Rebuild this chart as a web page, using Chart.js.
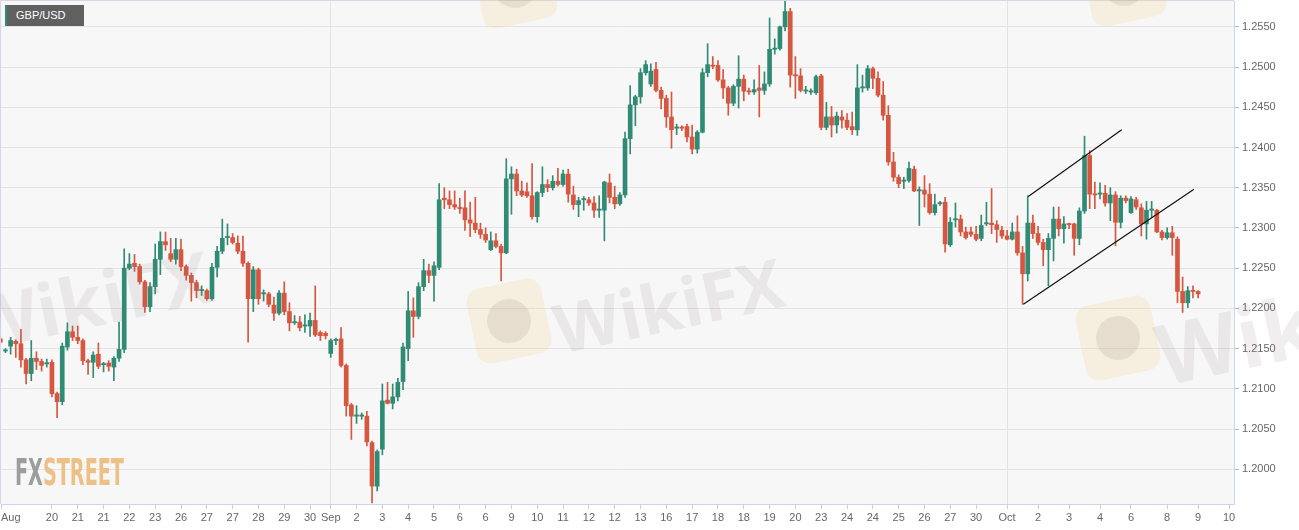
<!DOCTYPE html>
<html><head><meta charset="utf-8">
<script src="https://cdn.jsdelivr.net/npm/chart.js@4.4.1/dist/chart.umd.min.js"></script>
<style>
html,body{margin:0;padding:0;background:#fff;}
#wrap{position:relative;width:1299px;height:530px;overflow:hidden;}
#c{position:absolute;left:0;top:0;}
#sym{position:absolute;left:5px;top:5px;width:79px;height:21px;background:#606060;border-left:2px solid #2f8b74;color:#fff;font:11px "Liberation Sans",Arial,sans-serif;line-height:21px;padding-left:9px;box-sizing:border-box;}
#logo{position:absolute;left:15px;top:454px;font:bold 37px "Liberation Sans Narrow","DejaVu Sans Condensed","Liberation Sans",sans-serif;line-height:37px;white-space:nowrap;transform-origin:0 0;}
.wmt{position:absolute;font:bold 68px "Open Sans","Liberation Sans",sans-serif;color:rgba(140,125,125,0.13);white-space:nowrap;transform:rotate(-12deg);transform-origin:0 100%;pointer-events:none;line-height:68px;}
.wml{position:absolute;width:76px;height:76px;border-radius:14px;background:rgba(245,212,130,0.20);transform:rotate(-12deg);pointer-events:none;}
.wml::after{content:"";position:absolute;left:16px;top:16px;width:44px;height:44px;border-radius:50%;background:rgba(140,125,125,0.16);}
</style></head>
<body><div id="wrap"><canvas id="c" width="1299" height="530"></canvas>
<div class="wmt" style="left:-24px;top:290px;font-size:72px;">WikiFX</div>
<div class="wml" style="left:471px;top:283px;"></div>
<div class="wmt" style="left:562px;top:294px;">WikiFX</div>
<div class="wml" style="left:1080px;top:300px;"></div>
<div class="wmt" style="left:1166px;top:312px;font-size:84px;line-height:84px;">WikiFX</div>
<div class="wml" style="left:477px;top:-52px;"></div>
<div class="wml" style="left:1086px;top:-54px;"></div>
<div id="sym">GBP/USD</div>
<div id="logo"><span style="color:#9d9d9d">FX</span><span style="color:#ecc086">STREET</span></div>
</div>
<script>
// 4-hour candles, index 0..232
const openP = [
1.2162,1.2147,1.2153,1.2159,1.2156,1.2136,1.2119,1.2138,1.2134,1.2131,
1.2133,1.2094,1.2084,1.2152,1.2171,1.2164,1.2160,1.2135,1.2133,1.2143,
1.2130,1.2132,1.2127,1.2138,1.2149,1.2250,1.2256,1.2252,1.2233,1.2202,
1.2227,1.2261,1.2283,1.2268,1.2261,1.2273,1.2252,1.2241,1.2232,1.2222,
1.2222,1.2212,1.2251,1.2271,1.2288,1.2288,1.2281,1.2271,1.2256,1.2212,
1.2248,1.2218,1.2218,1.2204,1.2194,1.2219,1.2196,1.2182,1.2183,1.2178,
1.2178,1.2185,1.2170,1.2169,1.2144,1.2160,1.2162,1.2129,1.2080,1.2066,
1.2066,1.2066,1.2033,1.1979,1.2025,1.2086,1.2082,1.2090,1.2109,1.2150,
1.2197,1.2190,1.2227,1.2247,1.2241,1.2251,1.2337,1.2335,1.2329,1.2325,
1.2325,1.2310,1.2306,1.2298,1.2292,1.2273,1.2284,1.2277,1.2269,1.2361,
1.2367,1.2346,1.2345,1.2340,1.2314,1.2344,1.2354,1.2350,1.2358,1.2354,
1.2367,1.2341,1.2329,1.2335,1.2335,1.2331,1.2322,1.2322,1.2356,1.2338,
1.2330,1.2341,1.2411,1.2453,1.2463,1.2493,1.2479,1.2497,1.2471,1.2461,
1.2438,1.2424,1.2425,1.2426,1.2413,1.2398,1.2419,1.2493,1.2502,1.2502,
1.2484,1.2474,1.2455,1.2476,1.2485,1.2470,1.2469,1.2474,1.2471,1.2479,
1.2522,1.2523,1.2550,1.2569,1.2490,1.2489,1.2470,1.2469,1.2468,1.2489,
1.2425,1.2438,1.2428,1.2438,1.2434,1.2426,1.2422,1.2474,1.2474,1.2498,
1.2486,1.2465,1.2440,1.2382,1.2363,1.2358,1.2359,1.2373,1.2346,1.2347,
1.2342,1.2319,1.2330,1.2332,1.2279,1.2310,1.2311,1.2295,1.2295,1.2292,
1.2287,1.2305,1.2306,1.2304,1.2297,1.2290,1.2286,1.2295,1.2269,1.2243,
1.2306,1.2293,1.2282,1.2273,1.2287,1.2311,1.2299,1.2305,1.2305,1.2287,
1.2321,1.2390,1.2342,1.2342,1.2343,1.2331,1.2341,1.2307,1.2337,1.2319,
1.2335,1.2325,1.2305,1.2322,1.2322,1.2295,1.2288,1.2294,1.2286,1.2221,
1.2207,1.2222,1.2221];
const highP = [
1.2165,1.2150,1.2164,1.2161,1.2174,1.2138,1.2160,1.2146,1.2137,1.2137,
1.2136,1.2096,1.2157,1.2182,1.2178,1.2178,1.2162,1.2137,1.2146,1.2157,
1.2133,1.2135,1.2140,1.2183,1.2274,1.2268,1.2267,1.2255,1.2235,1.2232,
1.2280,1.2295,1.2295,1.2287,1.2287,1.2286,1.2254,1.2244,1.2235,1.2228,
1.2224,1.2256,1.2277,1.2311,1.2305,1.2293,1.2290,1.2290,1.2258,1.2252,
1.2250,1.2223,1.2220,1.2214,1.2222,1.2233,1.2207,1.2191,1.2190,1.2192,
1.2194,1.2228,1.2172,1.2171,1.2162,1.2163,1.2176,1.2131,1.2082,1.2079,
1.2070,1.2072,1.2035,1.2024,1.2106,1.2108,1.2106,1.2113,1.2157,1.2221,
1.2213,1.2232,1.2261,1.2255,1.2258,1.2355,1.2350,1.2346,1.2346,1.2337,
1.2346,1.2332,1.2338,1.2306,1.2300,1.2295,1.2293,1.2280,1.2386,1.2376,
1.2373,1.2358,1.2356,1.2380,1.2345,1.2376,1.2360,1.2365,1.2374,1.2372,
1.2373,1.2352,1.2338,1.2339,1.2338,1.2339,1.2340,1.2358,1.2367,1.2352,
1.2344,1.2419,1.2477,1.2465,1.2498,1.2508,1.2504,1.2506,1.2475,1.2465,
1.2469,1.2429,1.2427,1.2429,1.2428,1.2421,1.2498,1.2529,1.2513,1.2508,
1.2497,1.2476,1.2478,1.2514,1.2490,1.2474,1.2484,1.2502,1.2494,1.2561,
1.2535,1.2551,1.2582,1.2573,1.2513,1.2498,1.2476,1.2473,1.2490,1.2491,
1.2456,1.2451,1.2444,1.2446,1.2442,1.2444,1.2503,1.2490,1.2502,1.2500,
1.2494,1.2482,1.2452,1.2394,1.2366,1.2363,1.2382,1.2377,1.2351,1.2365,
1.2355,1.2342,1.2333,1.2338,1.2313,1.2331,1.2316,1.2301,1.2301,1.2302,
1.2316,1.2332,1.2349,1.2309,1.2302,1.2297,1.2306,1.2315,1.2277,1.2340,
1.2316,1.2302,1.2286,1.2293,1.2326,1.2326,1.2314,1.2306,1.2306,1.2325,
1.2414,1.2396,1.2357,1.2356,1.2353,1.2350,1.2345,1.2340,1.2340,1.2339,
1.2338,1.2330,1.2333,1.2333,1.2323,1.2297,1.2300,1.2302,1.2289,1.2239,
1.2227,1.2228,1.2222];
const lowP = [
1.2155,1.2145,1.2143,1.2139,1.2127,1.2106,1.2110,1.2124,1.2122,1.2127,
1.2090,1.2064,1.2080,1.2148,1.2160,1.2156,1.2130,1.2118,1.2114,1.2125,
1.2121,1.2122,1.2110,1.2134,1.2145,1.2248,1.2246,1.2230,1.2195,1.2196,
1.2218,1.2242,1.2272,1.2258,1.2255,1.2247,1.2235,1.2209,1.2213,1.2216,
1.2210,1.2210,1.2239,1.2268,1.2279,1.2280,1.2268,1.2252,1.2158,1.2196,
1.2205,1.2209,1.2202,1.2185,1.2192,1.2192,1.2172,1.2180,1.2172,1.2170,
1.2165,1.2165,1.2160,1.2162,1.2139,1.2155,1.2127,1.2066,1.2037,1.2057,
1.2062,1.2029,1.1958,1.1973,1.2018,1.2081,1.2075,1.2085,1.2099,1.2135,
1.2164,1.2187,1.2222,1.2232,1.2209,1.2248,1.2324,1.2324,1.2323,1.2318,
1.2297,1.2289,1.2294,1.2287,1.2282,1.2272,1.2275,1.2234,1.2268,1.2317,
1.2340,1.2339,1.2338,1.2311,1.2307,1.2339,1.2345,1.2347,1.2352,1.2352,
1.2332,1.2323,1.2314,1.2322,1.2328,1.2313,1.2313,1.2284,1.2331,1.2324,
1.2328,1.2338,1.2392,1.2427,1.2455,1.2490,1.2476,1.2469,1.2448,1.2425,
1.2399,1.2416,1.2421,1.2407,1.2392,1.2393,1.2418,1.2488,1.2498,1.2482,
1.2461,1.2440,1.2452,1.2449,1.2458,1.2466,1.2466,1.2438,1.2466,1.2476,
1.2516,1.2521,1.2545,1.2475,1.2461,1.2469,1.2467,1.2466,1.2466,1.2422,
1.2422,1.2413,1.2418,1.2424,1.2422,1.2416,1.2415,1.2469,1.2471,1.2473,
1.2463,1.2434,1.2378,1.2358,1.2350,1.2349,1.2357,1.2345,1.2303,1.2326,
1.2317,1.2316,1.2328,1.2270,1.2277,1.2301,1.2290,1.2286,1.2289,1.2284,
1.2284,1.2303,1.2293,1.2282,1.2287,1.2285,1.2285,1.2266,1.2205,1.2234,
1.2287,1.2279,1.2253,1.2228,1.2259,1.2290,1.2281,1.2299,1.2266,1.2279,
1.2318,1.2324,1.2324,1.2336,1.2327,1.2309,1.2278,1.2300,1.2331,1.2318,
1.2323,1.2290,1.2286,1.2313,1.2294,1.2285,1.2286,1.2266,1.2207,1.2195,
1.2201,1.2213,1.2213];
const closeP = [
1.2158,1.2148,1.2160,1.2156,1.2136,1.2119,1.2138,1.2134,1.2129,1.2132,
1.2094,1.2084,1.2153,1.2171,1.2164,1.2160,1.2135,1.2133,1.2142,1.2128,
1.2130,1.2128,1.2138,1.2149,1.2250,1.2255,1.2252,1.2233,1.2202,1.2227,
1.2261,1.2283,1.2279,1.2261,1.2273,1.2252,1.2241,1.2232,1.2222,1.2223,
1.2212,1.2251,1.2271,1.2287,1.2289,1.2282,1.2271,1.2256,1.2212,1.2248,
1.2212,1.2219,1.2205,1.2194,1.2219,1.2196,1.2182,1.2183,1.2176,1.2179,
1.2185,1.2167,1.2166,1.2166,1.2160,1.2161,1.2129,1.2079,1.2066,1.2067,
1.2067,1.2034,1.1979,1.2022,1.2085,1.2082,1.2090,1.2108,1.2152,1.2197,
1.2190,1.2227,1.2247,1.2241,1.2253,1.2335,1.2335,1.2329,1.2326,1.2324,
1.2310,1.2306,1.2298,1.2292,1.2285,1.2284,1.2277,1.2269,1.2361,1.2367,
1.2346,1.2341,1.2340,1.2314,1.2344,1.2354,1.2350,1.2358,1.2354,1.2367,
1.2342,1.2329,1.2334,1.2336,1.2331,1.2322,1.2323,1.2357,1.2338,1.2330,
1.2341,1.2411,1.2453,1.2463,1.2493,1.2503,1.2495,1.2471,1.2461,1.2438,
1.2422,1.2425,1.2424,1.2413,1.2398,1.2419,1.2493,1.2503,1.2501,1.2484,
1.2474,1.2455,1.2476,1.2485,1.2470,1.2469,1.2472,1.2471,1.2479,1.2522,
1.2523,1.2550,1.2569,1.2490,1.2489,1.2471,1.2471,1.2470,1.2488,1.2425,
1.2438,1.2428,1.2439,1.2434,1.2425,1.2422,1.2474,1.2475,1.2498,1.2486,
1.2465,1.2440,1.2382,1.2363,1.2355,1.2359,1.2374,1.2346,1.2347,1.2342,
1.2319,1.2329,1.2331,1.2280,1.2307,1.2311,1.2295,1.2288,1.2292,1.2286,
1.2303,1.2306,1.2304,1.2298,1.2290,1.2286,1.2295,1.2269,1.2243,1.2306,
1.2293,1.2282,1.2273,1.2287,1.2311,1.2299,1.2305,1.2304,1.2287,1.2321,
1.2390,1.2342,1.2341,1.2343,1.2331,1.2341,1.2307,1.2337,1.2334,1.2336,
1.2326,1.2305,1.2322,1.2323,1.2295,1.2288,1.2294,1.2288,1.2221,1.2207,
1.2222,1.2221,1.2218];

// x-axis tick positions (candle index) and their labels
const xTickPos = [0.14,10,15,20,25,30,35,40,45,50,55,60,64,69,74,79,84,89,94,99,104,109,114,119,124,129,134,139,144,149,154,159,164,169,174,179,184,189,195,201,207,213,219,226,232,238];
const xTickLabels = ['Aug','20','21','21','22','23','26','27','27','28','29','30','Sep','2','3','4','5','6','6','9','10','11','12','12','13','16','17','18','18','19','20','23','24','24','25','26','27','30','Oct','2','3','4','6','8','9','10'];
const monthLabels = ['Sep','Oct'];
// y-axis ticks
const yTicks = [1.2000,1.2050,1.2100,1.2150,1.2200,1.2250,1.2300,1.2350,1.2400,1.2450,1.2500,1.2550];
const xRange = [0.136, 238.95];
const yRange = [1.19568, 1.25821];
// hand-drawn channel lines (candle index, price)
const upperChannel = [{x:199.1,y:1.2339},{x:217.2,y:1.2422}];
const lowerChannel = [{x:198.15,y:1.2205},{x:231.2,y:1.2348}];

const UP = '#2f8b74', DOWN = '#d6563f';
const colors = openP.map((o,i)=> closeP[i] >= o ? UP : DOWN);
const bodies = openP.map((o,i)=>({x:i, y:[o, closeP[i]]}));
const wicks = openP.map((o,i)=>({x:i, y:[lowP[i], highP[i]]}));

const FONT = '"Liberation Sans", Arial, sans-serif';

const bgPlugin = {
  id:'bg',
  beforeDraw(chart){
    const {ctx, chartArea:a} = chart;
    ctx.save();
    ctx.fillStyle = '#ffffff';
    ctx.fillRect(0,0,chart.width,chart.height);
    ctx.fillStyle = '#f7f7f7';
    ctx.fillRect(a.left, a.top, a.right-a.left, a.bottom-a.top);
    ctx.strokeStyle = '#d6d6e6';
    ctx.lineWidth = 1;
    ctx.beginPath();
    ctx.moveTo(0.5, a.bottom);
    ctx.lineTo(0.5, 0.5);
    ctx.lineTo(a.right, 0.5);
    ctx.stroke();
    ctx.restore();
  }
};

new Chart(document.getElementById('c'), {
  type:'bar',
  data:{datasets:[
    {type:'line', data:upperChannel, borderColor:'#111', borderWidth:1.2, pointRadius:0, order:0},
    {type:'line', data:lowerChannel, borderColor:'#111', borderWidth:1.2, pointRadius:0, order:0},
    {data:bodies, backgroundColor:colors, borderWidth:0, barThickness:4, minBarLength:1.2, grouped:false, order:1},
    {data:wicks, backgroundColor:colors, borderWidth:0, barThickness:1, grouped:false, order:2}
  ]},
  options:{
    responsive:false, animation:false, devicePixelRatio:1,
    layout:{padding:{left:1, top:1, right:0, bottom:0}},
    plugins:{legend:{display:false}, tooltip:{enabled:false}},
    scales:{
      x:{
        type:'linear', min:xRange[0], max:xRange[1], offset:false,
        grid:{offset:false, lineWidth:1, tickLength:5,
          color: c => (c.tick && monthLabels.includes(xTickLabels[c.index])) ? '#e3e3e3' : 'rgba(0,0,0,0)',
          tickColor: c => (c.index < xTickPos.length) ? '#c4cbdc' : 'rgba(0,0,0,0)'},
        border:{color:'#ccd6eb'},
        ticks:{autoSkip:false, maxRotation:0, minRotation:0, align:'inner', padding:2, color:'#666',
          font:{family:FONT, size:11}, callback:(v,i)=> (i < xTickLabels.length ? xTickLabels[i] : '')},
        afterBuildTicks: s => { s.ticks = xTickPos.concat([xRange[1]]).map(v=>({value:v})); },
        afterFit: s => { s.height = 26; s.paddingLeft = 0; s.paddingRight = 0; }
      },
      y:{
        position:'right', min:yRange[0], max:yRange[1],
        grid:{color:'#e3e3e3', tickColor:'#b8b8b8', tickLength:5},
        border:{color:'#ccd6eb'},
        ticks:{padding:3, color:'#666', font:{family:FONT, size:11}, callback: v => Number(v).toFixed(4)},
        afterBuildTicks: s => { s.ticks = yTicks.map(v=>({value:v})); },
        afterFit: s => { s.width = 65; s.paddingTop = 0; s.paddingBottom = 0; }
      }
    }
  },
  plugins:[bgPlugin]
});

const logo = document.getElementById('logo');
const w = logo.offsetWidth;
if (w > 0) logo.style.transform = 'scaleX(' + (109 / w) + ')';
</script>
</body></html>
